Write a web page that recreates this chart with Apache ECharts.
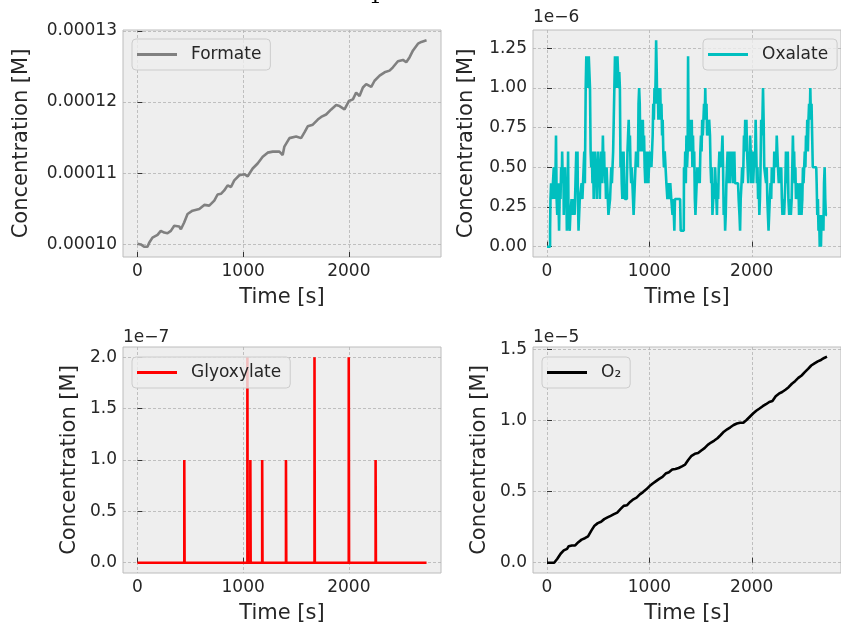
<!DOCTYPE html>
<html><head><meta charset="utf-8">
<script src="https://cdn.jsdelivr.net/npm/echarts@6/dist/echarts.min.js"></script>
<style>html,body{margin:0;padding:0;background:#fff}#c{width:841px;height:625px}</style>
</head><body><div id="c"></div>
<script>
// ---------------- DATA ----------------
const timeTicks = [0, 1000, 2000];
const seriesNames = ['Formate', 'Oxalate', 'Glyoxylate', 'O\u2082'];
const seriesColors = ['#808080', '#00bfbf', '#ff0000', '#000000'];
const offsetTexts = ['', '1e\u22126', '1e\u22127', '1e\u22125'];
const titleFragment = '1';

// Formate [time s, concentration M]
const formatePoints = [[0,1.0010e-4],[32,1.0000e-4],[63,0.9967e-4],[95,0.9967e-4],[111,1.0024e-4],[142,1.0095e-4],[190,1.0133e-4],[221,1.0190e-4],[253,1.0166e-4],[284,1.0156e-4],[316,1.0190e-4],[348,1.0261e-4],[395,1.0251e-4],[411,1.0213e-4],[442,1.0308e-4],[474,1.0427e-4],[521,1.0474e-4],[585,1.0498e-4],[632,1.0555e-4],[679,1.0545e-4],[727,1.0616e-4],[758,1.0701e-4],[790,1.0711e-4],[821,1.0758e-4],[853,1.0829e-4],[885,1.0806e-4],[916,1.0900e-4],[964,1.0972e-4],[1011,1.0986e-4],[1043,1.0957e-4],[1090,1.1066e-4],[1137,1.1137e-4],[1185,1.1232e-4],[1232,1.1289e-4],[1280,1.1303e-4],[1343,1.1303e-4],[1374,1.1256e-4],[1390,1.1374e-4],[1438,1.1493e-4],[1501,1.1517e-4],[1548,1.1493e-4],[1580,1.1573e-4],[1611,1.1659e-4],[1659,1.1682e-4],[1706,1.1754e-4],[1738,1.1791e-4],[1785,1.1825e-4],[1833,1.1896e-4],[1880,1.1957e-4],[1912,1.1943e-4],[1959,1.1896e-4],[2000,1.2014e-4],[2038,1.2038e-4],[2069,1.2133e-4],[2101,1.2085e-4],[2133,1.2204e-4],[2164,1.2251e-4],[2212,1.2213e-4],[2243,1.2299e-4],[2291,1.2370e-4],[2338,1.2417e-4],[2385,1.2441e-4],[2417,1.2488e-4],[2464,1.2573e-4],[2512,1.2592e-4],[2543,1.2559e-4],[2575,1.2630e-4],[2607,1.2725e-4],[2654,1.2820e-4],[2686,1.2844e-4],[2735,1.2867e-4]];

// Oxalate [time s, concentration in units of 1e-6 M] (step series)
const oxalatePoints = [[0,0],[30,0.1],[34,0.3],[40,0.4],[52,0.3],[58,0.4],[66,0.5],[72,0.4],[78,0.3],[84,0.5],[88,0.7],[94,0.3],[100,0.2],[106,0.4],[112,0.3],[118,0.1],[126,0.4],[132,0.3],[138,0.5],[144,0.4],[148,0.6],[154,0.4],[160,0.5],[164,0.2],[170,0.4],[176,0.5],[182,0.3],[188,0.4],[194,0.1],[200,0.2],[206,0.6],[210,0.2],[216,0.2],[222,0.1],[228,0.2],[240,0.3],[252,0.2],[262,0.3],[270,0.2],[278,0.4],[286,0.6],[292,0.5],[298,0.6],[302,0.3],[308,0.1],[314,0.2],[320,0.3],[330,0.3],[338,0.4],[346,0.3],[352,0.4],[358,0.5],[364,0.6],[370,0.4],[378,1.0],[384,1.2],[390,1.1],[396,1.2],[402,1.0],[408,1.2],[414,1.1],[420,1.0],[426,0.6],[432,0.5],[438,0.6],[444,0.4],[450,0.6],[456,0.3],[462,0.5],[468,0.6],[474,0.4],[480,0.5],[486,0.3],[492,0.5],[498,0.6],[504,0.4],[510,0.5],[516,0.3],[522,0.5],[528,0.6],[534,0.4],[540,0.5],[546,0.7],[552,0.5],[558,0.6],[564,0.4],[570,0.5],[576,0.3],[582,0.5],[588,0.4],[594,0.3],[600,0.2],[610,0.2],[616,0.3],[622,0.4],[628,0.5],[634,0.4],[640,0.5],[646,0.6],[652,0.8],[658,1.0],[664,1.2],[670,1.1],[676,1.2],[682,1.0],[688,1.2],[694,1.1],[700,1.0],[706,1.1],[712,1.0],[718,0.5],[724,0.6],[730,0.4],[736,0.3],[742,0.5],[748,0.6],[754,0.4],[760,0.3],[770,0.3],[780,0.4],[786,0.6],[792,0.7],[798,0.8],[804,0.6],[810,0.7],[816,0.5],[822,0.4],[828,0.5],[834,0.4],[840,0.3],[846,0.2],[852,0.3],[858,0.4],[864,0.5],[870,0.6],[876,0.5],[882,0.6],[888,0.5],[894,0.9],[900,1.0],[906,0.9],[912,0.6],[918,0.8],[924,0.7],[930,0.6],[936,0.8],[942,0.6],[948,0.7],[954,0.5],[960,0.4],[966,0.6],[972,0.4],[978,0.5],[984,0.6],[990,0.4],[996,0.5],[1002,0.6],[1008,0.5],[1014,0.6],[1020,0.5],[1026,0.6],[1032,0.7],[1038,0.9],[1044,0.8],[1050,1.0],[1056,0.9],[1062,1.1],[1066,1.3],[1072,1.1],[1076,0.9],[1082,1.0],[1088,0.8],[1094,0.9],[1100,0.8],[1106,1.0],[1112,0.8],[1118,0.9],[1124,0.7],[1130,0.8],[1136,0.6],[1142,0.5],[1150,0.6],[1158,0.5],
[1166,0.4],[1176,0.3],[1184,0.4],[1194,0.3],[1204,0.4],[1214,0.3],[1226,0.2],[1234,0.3],[1244,0.1],[1250,0.3],[1300,0.3],[1306,0.1],[1336,0.1],[1338,0.5],[1344,0.4],[1350,0.6],[1356,0.4],[1362,0.7],[1368,0.5],[1374,0.6],[1378,1.2],[1384,0.6],[1390,0.8],[1396,0.6],[1402,0.7],[1408,0.6],[1414,0.8],[1420,0.5],[1426,0.7],[1432,0.5],[1438,0.6],[1444,0.3],[1450,0.2],[1456,0.3],[1462,0.4],[1468,0.5],[1476,0.4],[1484,0.5],[1492,0.4],[1498,0.6],[1504,0.7],[1510,0.6],[1516,0.8],[1522,0.7],[1528,0.8],[1534,0.9],[1540,0.8],[1546,1.0],[1552,0.8],[1558,0.9],[1564,0.7],[1572,0.8],[1578,0.7],[1584,0.8],[1592,0.7],[1598,0.5],[1604,0.4],[1610,0.5],[1616,0.2],[1624,0.3],[1630,0.4],[1636,0.3],[1642,0.5],[1648,0.4],[1654,0.3],[1660,0.2],[1666,0.4],[1672,0.3],[1678,0.5],[1684,0.6],[1690,0.5],[1696,0.6],[1702,0.5],[1708,0.6],[1714,0.7],[1720,0.5],[1726,0.2],[1734,0.3],[1740,0.1],[1746,0.2],[1752,0.4],[1758,0.5],[1764,0.6],[1770,0.4],[1776,0.5],[1782,0.6],[1788,0.4],[1794,0.5],[1800,0.6],[1806,0.5],[1812,0.6],[1818,0.4],[1824,0.5],[1830,0.6],[1836,0.4],[1866,0.4],[1872,0.3],[1880,0.2],[1886,0.1],[1892,0.3],[1900,0.4],[1906,0.5],[1912,0.4],[1918,0.5],[1924,0.7],[1930,0.6],[1936,0.8],[1942,0.7],[1948,0.8],[1954,0.6],[1960,0.5],[1966,0.4],[1972,0.6],[1978,0.5],[1984,0.7],[1990,0.6],[1996,0.4],[2002,0.5],[2008,0.6],[2014,0.4],[2020,0.5],[2026,0.6],[2032,0.5],[2038,0.8],[2044,0.6],[2050,0.4],[2056,0.5],[2062,0.3],[2068,0.4],[2074,0.2],[2080,0.3],[2086,0.5],[2092,0.8],[2098,0.7],[2104,0.8],[2110,1.0],[2116,0.8],[2122,0.5],[2132,0.5],[2140,0.4],[2146,0.5],[2152,0.3],[2158,0.2],[2164,0.1],[2170,0.2],[2176,0.3],[2184,0.4],[2190,0.3],[2196,0.5],[2202,0.4],[2208,0.5],[2214,0.4],[2220,0.6],[2226,0.5],[2232,0.6],[2238,0.5],[2244,0.7],[2250,0.6],[2256,0.5],[2264,0.4],[2272,0.5],[2280,0.4],[2288,0.5],[2294,0.3],[2300,0.2],[2308,0.3],[2316,0.2],[2322,0.3],[2328,0.4],[2334,0.6],[2340,0.5],[2346,0.4],[2352,0.6],[2358,0.3],[2366,0.2],[2374,0.3],[2382,0.2],[2390,0.3],[2396,0.5],[2402,0.7],[2408,0.5],[2414,0.6],[2420,0.4],[2426,0.5],[2432,0.3],[2440,0.4],[2448,0.3],[2456,0.4],[2462,0.2],[2470,0.3],[2478,0.4],[2486,0.2],[2494,0.3],[2500,0.5],[2506,0.4],[2512,0.5],[2518,0.6],[2524,0.5],[2530,0.7],[2536,0.6],[2542,0.8],[2548,0.6],[2554,0.8],[2560,0.9],[2566,0.8],[2572,1.0],[2578,0.8],[2584,0.9],[2590,0.7],[2596,0.5],[2630,0.5],[2634,0.4],[2640,0.2],[2646,0.3],[2652,0.1],[2658,0.2],[2664,0.0],[2670,0.1],[2676,0.0],[2682,0.2],[2688,0.1],[2694,0.2],[2700,0.1],[2706,0.4],[2712,0.5],[2718,0.3],[2724,0.2],[2735,0.2]];

// Glyoxylate [time s, concentration in units of 1e-7 M]
const glyoxylatePoints = [[0,0],[443,0],[443,1],[446,1],[446,0],[1040,0],[1040,2],[1043,2],[1043,0],[1068,0],[1068,1],[1071,1],[1071,0],[1180,0],[1180,1],[1183,1],[1183,0],[1405,0],[1405,1],[1408,1],[1408,0],[1675,0],[1675,2],[1678,2],[1678,0],[1999,0],[1999,2],[2002,2],[2002,0],[2253,0],[2253,1],[2256,1],[2256,0],[2735,0]];

// O2 [time s, concentration in units of 1e-5 M]
const o2Points = [[0,0],[70,0],[101,0.028],[133,0.063],[164,0.086],[196,0.097],[212,0.116],[243,0.121],[275,0.121],[306,0.144],[338,0.162],[370,0.172],[401,0.185],[433,0.225],[464,0.26],[496,0.278],[528,0.288],[559,0.306],[591,0.318],[622,0.329],[654,0.341],[686,0.352],[717,0.376],[749,0.399],[780,0.403],[812,0.427],[844,0.445],[875,0.457],[907,0.48],[938,0.496],[970,0.515],[1002,0.538],[1033,0.556],[1065,0.573],[1096,0.589],[1128,0.603],[1159,0.626],[1191,0.635],[1223,0.654],[1254,0.658],[1286,0.665],[1318,0.677],[1349,0.689],[1381,0.723],[1412,0.751],[1444,0.765],[1476,0.77],[1507,0.788],[1539,0.805],[1570,0.828],[1602,0.844],[1634,0.858],[1665,0.874],[1697,0.897],[1728,0.92],[1760,0.937],[1791,0.951],[1823,0.967],[1855,0.978],[1886,0.983],[1918,0.983],[1949,1.002],[1981,1.025],[2013,1.048],[2044,1.067],[2076,1.083],[2107,1.099],[2139,1.113],[2171,1.129],[2202,1.136],[2234,1.169],[2265,1.187],[2297,1.199],[2329,1.215],[2360,1.233],[2392,1.257],[2423,1.275],[2455,1.298],[2487,1.315],[2518,1.338],[2550,1.361],[2581,1.385],[2613,1.40],[2645,1.414],[2676,1.424],[2708,1.438],[2735,1.447]];

// Y tick values per panel (display units)
const formateTicks = [0.00010, 0.00011, 0.00012, 0.00013];
const oxalateTicks = [0, 0.25, 0.5, 0.75, 1.0, 1.25];
const glyoxylateTicks = [0, 0.5, 1.0, 1.5, 2.0];
const o2Ticks = [0, 0.5, 1.0, 1.5];

// ---------------- CHART ----------------
const FONT = 'DejaVu Sans';
const TXT = '#262626';
const grids = [
  {left:123, top:30, width:318, height:227},
  {left:533, top:30, width:318, height:227},
  {left:123, top:347, width:318, height:226},
  {left:533, top:347, width:318, height:226}
].map(g => Object.assign(g, {show:true, backgroundColor:'#eeeeee', borderColor:'#bcbcbc', borderWidth:1, containLabel:false}));

const yRanges = [[9.823e-5, 1.3012e-4], [-0.065, 1.365], [-0.1, 2.1], [-0.0724, 1.515]];
const yTickSets = [formateTicks, oxalateTicks, glyoxylateTicks, o2Ticks];
const yFmt = [v => v.toFixed(5), v => v.toFixed(2), v => v.toFixed(1), v => v.toFixed(1)];
const yNameGap = [91, 56, 43, 43];

const tickStyle = {inside:true, length:5, lineStyle:{color:'#333', width:1}};
const splitStyle = {show:true, lineStyle:{color:'#b2b2b2', width:0.8, type:[3,2]}};

const xAxes = grids.map((g, i) => ({
  gridIndex:i, type:'value', min:-136.75, max:2871.75,
  name:'Time [s]', nameLocation:'middle', nameGap:30,
  nameTextStyle:{fontFamily:FONT, fontSize:21, color:TXT},
  axisLine:{show:false},
  axisTick:Object.assign({customValues:timeTicks}, tickStyle),
  axisLabel:{customValues:timeTicks, fontFamily:FONT, fontSize:17, color:TXT, margin:6, formatter:v => String(Math.round(v))},
  splitLine:splitStyle
}));
const yAxes = grids.map((g, i) => ({
  gridIndex:i, type:'value', min:yRanges[i][0], max:yRanges[i][1],
  name:'Concentration [M]', nameLocation:'middle', nameGap:yNameGap[i],
  nameTextStyle:{fontFamily:FONT, fontSize:21, color:TXT},
  axisLine:{show:false},
  axisTick:Object.assign({customValues:yTickSets[i]}, tickStyle),
  axisLabel:{customValues:yTickSets[i], fontFamily:FONT, fontSize:17, color:TXT, margin:6, formatter:yFmt[i]},
  splitLine:splitStyle
}));

const dataSets = [formatePoints, oxalatePoints, glyoxylatePoints, o2Points];
const series = dataSets.map((d, i) => ({
  name:seriesNames[i], type:'line', xAxisIndex:i, yAxisIndex:i,
  data:d, showSymbol:false, step: i === 1 ? 'end' : false,
  lineStyle:{color:seriesColors[i], width:2.6}, itemStyle:{color:seriesColors[i]},
  animation:false, silent:true, z:2
}));

const legendPos = [[132,39],[703,39],[132,357],[542,357]];
const legends = seriesNames.map((n, i) => ({
  data:[n], left:legendPos[i][0], top:legendPos[i][1], selectedMode:false,
  icon:'rect', itemWidth:40, itemHeight:3,
  backgroundColor:'rgba(238,238,238,0.8)', borderColor:'#cccccc', borderWidth:1, borderRadius:4,
  padding:[7,9,7,5],
  textStyle:{fontFamily:FONT, fontSize:17, color:TXT, padding:[0,0,0,9]},
  z:5
}));

const offsetPos = [null, [533,18], [123,338], [533,338]];
const graphic = [];
offsetTexts.forEach((t, i) => {
  if (!t) return;
  graphic.push({type:'text', left:offsetPos[i][0], top:offsetPos[i][1] - 9,
    style:{text:t, font:'17px "DejaVu Sans"', fill:TXT}});
});
// bottom of a cropped figure title at the very top edge
graphic.push({type:'text', left:369, top:-12, style:{text:titleFragment, font:'20px "DejaVu Serif"', fill:'#000'}});

const chart = echarts.init(document.getElementById('c'), null, {renderer:'canvas'});
chart.setOption({
  animation:false, backgroundColor:'#ffffff',
  grid:grids, xAxis:xAxes, yAxis:yAxes, series:series, legend:legends, graphic:graphic
});
</script></body></html>
